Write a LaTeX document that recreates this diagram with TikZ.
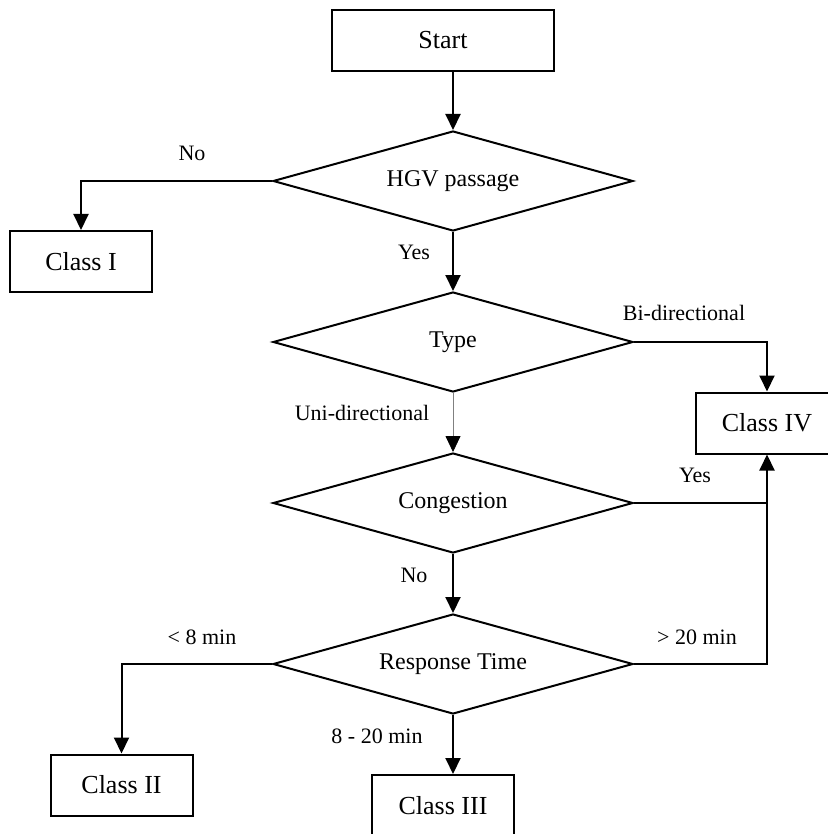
\documentclass[tikz,border=0pt]{standalone}
\usepackage{fontspec}
\setmainfont{Liberation Serif}
\usetikzlibrary{shapes.geometric,arrows.meta}
\begin{document}
\begin{tikzpicture}[x=0.5pt, y=-0.5pt, >={Triangle[length=8pt,width=7.5pt,color=black]}, line width=1pt,
    box/.style={draw, rectangle, minimum width=71pt, minimum height=30.5pt, inner sep=0pt, font=\fontsize{13}{15}\selectfont},
    decision/.style={draw, diamond, aspect=3.6, minimum width=180pt, minimum height=50pt, inner sep=0pt, font=\fontsize{12}{14}\selectfont},
    lbl/.style={inner sep=0pt, font=\fontsize{11}{13}\selectfont}]
    \useasboundingbox (0,0) rectangle (827,834);
    % boxes
    \node[box, minimum width=111pt] (start) at (443,40.5) {Start};
    \node[box] (cls1) at (81,261.5) {Class I};
    \node[box] (cls4) at (767,423) {Class IV};
    \node[box] (cls2) at (121.5,785) {Class II};
    \node[box] (cls3) at (443,805.5) {Class III};
    % decisions
    \node[decision] (hgv) at (453,181) {HGV passage};
    \node[decision] (type) at (453,342) {Type};
    \node[decision] (cong) at (453,503) {Congestion};
    \node[decision] (resp) at (453,664) {Response Time};
    \coordinate (join) at (cls4.south |- cong.east);
    % connectors
    \draw[->] (hgv.north |- start.south) -- (hgv.north);
    \draw[->] (hgv.west) -| (cls1.north);
    \draw[->] (hgv.south) -- (type.north);
    \draw[->] (type.east) -| (cls4.north);
    \draw[->, line width=0.4pt, gray] (type.south) -- (cong.north);
    \draw (cong.east) -- (join);
    \draw[->] (cong.south) -- (resp.north);
    \draw[->] (resp.east) -| (cls4.south);
    \draw[->] (resp.west) -| (cls2.north);
    \draw[->] (resp.south) -- (resp.south |- cls3.north);
    % labels
    \node[lbl] (no1) at (192,153) {No};
    \node[lbl] (yes1) at (414,252) {Yes};
    \node[lbl] (bi) at (684,313) {Bi-directional};
    \node[lbl] (uni) at (362,413) {Uni-directional};
    \node[lbl] (yes2) at (695,475) {Yes};
    \node[lbl] (no2) at (414,575) {No};
    \node[lbl] (less) at (202,637) {< 8 min};
    \node[lbl] (more) at (697,637) {> 20 min};
    \node[lbl] (mid) at (377,736) {8 - 20 min};
\end{tikzpicture}
\end{document}
